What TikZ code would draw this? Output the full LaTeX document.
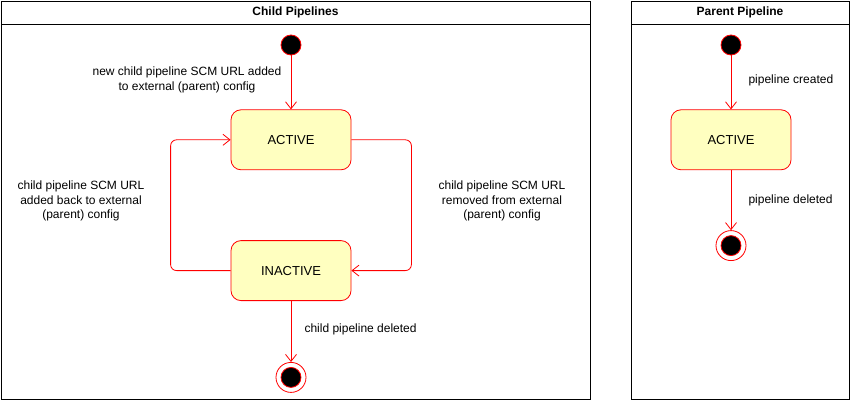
\documentclass[tikz,border=0pt]{standalone}
\usepackage{fontspec}
\setmainfont{Liberation Sans}
\usepackage{xcolor}
\usetikzlibrary{arrows.meta,positioning}
\definecolor{statered}{RGB}{255,0,0}
\definecolor{statefill}{RGB}{255,255,192}

\begin{document}
\begin{tikzpicture}[
  x=1pt, y=-1pt,
  frame/.style={draw=black, line width=0.8pt},
  paneltitle/.style={font=\fontsize{12}{14}\selectfont\bfseries},
  statebox/.style={
    rectangle, rounded corners=10pt,
    draw=statered, fill=statefill, line width=0.8pt,
    minimum width=120pt, minimum height=60pt,
    font=\fontsize{13}{15}\selectfont
  },
  startdot/.style={circle, draw=statered, fill=black, line width=0.8pt,
    minimum size=20pt, inner sep=0pt},
  enddot/.style={circle, draw=statered, fill=white, line width=0.8pt,
    minimum size=30pt, inner sep=0pt,
    path picture={\fill[black, draw=statered, line width=0.8pt]
      (path picture bounding box.center) circle (10pt);}},
  arr/.style={-{Straight Barb[length=7pt,width=11pt]}, draw=statered, line width=0.8pt},
  lbl/.style={font=\fontsize{12}{14.5}\selectfont, align=center}
]
\useasboundingbox (0,0) rectangle (851,401);

% child pipelines panel
\draw[frame] (1,1) rectangle (590,399);
\draw[frame] (1,24) -- (590,24);
\node[paneltitle] (childtitle) at (295.5,12.5) {Child Pipelines};

\node[startdot] (cstart) at (291,45) {};
\node[statebox, below=54pt of cstart] (cactive) {ACTIVE};
\node[statebox, below=70pt of cactive] (cinactive) {INACTIVE};
\node[enddot, below=61pt of cinactive] (cend) {};

\draw[arr] (cstart) -- (cactive);
\draw[arr, rounded corners=6pt] (cinactive.west) -- ++(-60,0) |- (cactive.west);
\draw[arr, rounded corners=6pt] (cactive.east) -- ++(60,0) |- (cinactive.east);
\draw[arr] (cinactive) -- (cend);

\node[lbl] (cnewlbl) at (187,80) {new child pipeline SCM URL added\\to external (parent) config};
\node[lbl] (cbacklbl) at (81,201) {child pipeline SCM URL\\added back to external\\(parent) config};
\node[lbl] (cremlbl) at (502,201) {child pipeline SCM URL\\removed from external\\(parent) config};
\node[lbl, anchor=west] (cdellbl) at (301,329) {child pipeline deleted};

% parent pipeline panel
\draw[frame] (631,1) rectangle (849,399);
\draw[frame] (631,24) -- (849,24);
\node[paneltitle] (parenttitle) at (740,12.5) {Parent Pipeline};

\node[startdot] (pstart) at (731,45) {};
\node[statebox, below=54pt of pstart] (pactive) {ACTIVE};
\node[enddot, below=60pt of pactive] (pend) {};

\draw[arr] (pstart) -- (pactive);
\draw[arr] (pactive) -- (pend);

\node[lbl, anchor=west] (pcrelbl) at (745,80) {pipeline created};
\node[lbl, anchor=west] (pdellbl) at (745,200) {pipeline deleted};

\end{tikzpicture}
\end{document}
